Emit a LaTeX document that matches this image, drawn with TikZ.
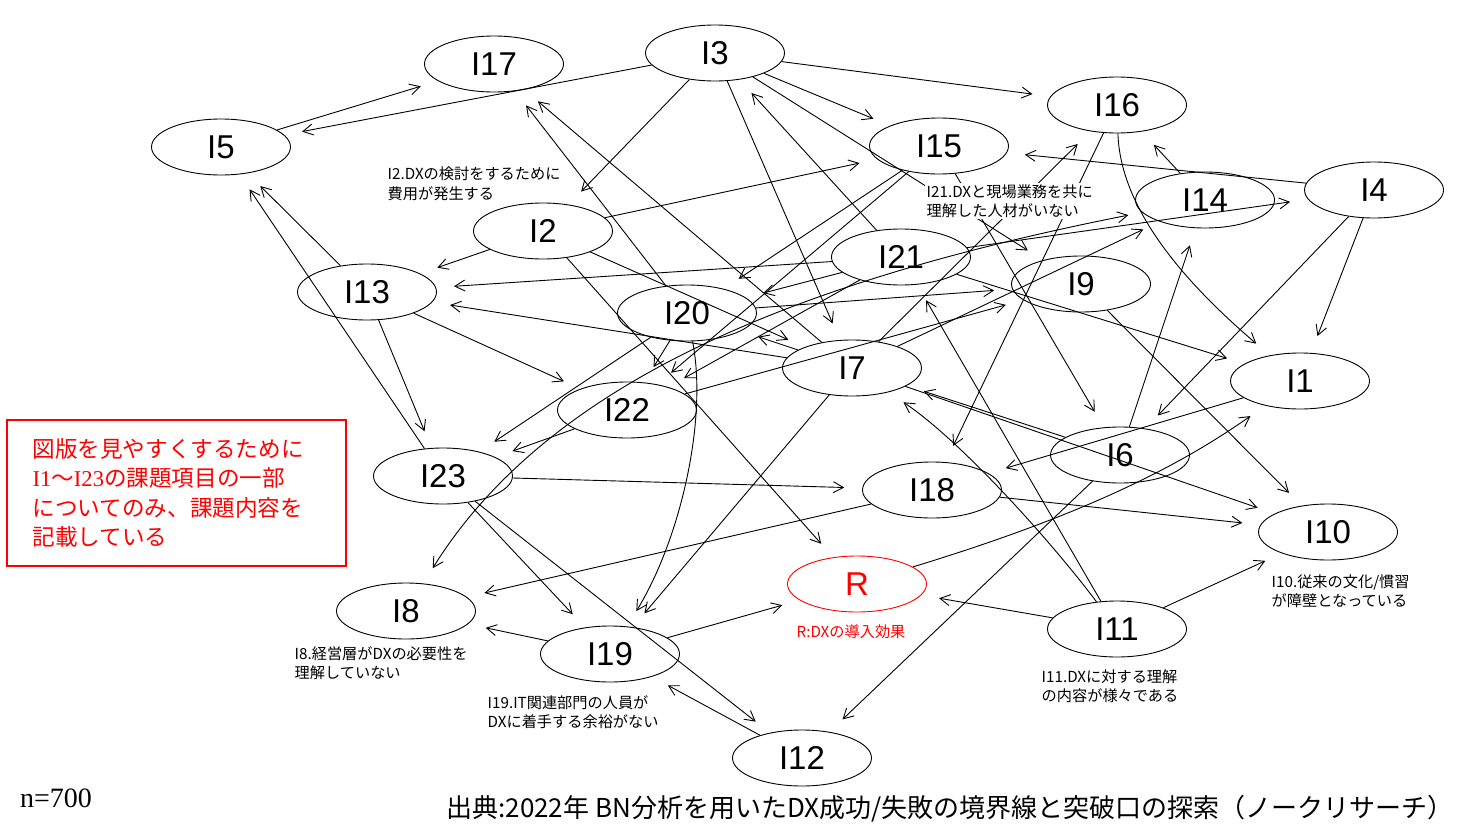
\documentclass[tikz,border=0pt]{standalone}
\usepackage{fontspec}
\setmainfont{Liberation Sans}
\newfontfamily\jpfont{Noto Sans CJK JP}
\newfontfamily\tmsfont{Liberation Serif}
\usetikzlibrary{shapes.geometric,arrows.meta}

\begin{document}
\begin{tikzpicture}[x=1pt, y=-1pt,
        var/.style={ellipse, draw, line width=0.9pt, minimum width=139pt, minimum height=56pt, inner sep=0pt, font=\fontsize{33}{33}\selectfont},
        arr/.style={-{Straight Barb[length=10pt,width=11pt]}, line width=0.9pt, shorten >=18pt},
        note/.style={anchor=west, align=left, inner sep=1.5pt, fill=white, font=\jpfont\fontsize{15.2}{19.5}\selectfont}]
        \useasboundingbox (0,0) rectangle (1466,838);
        % variables
        \node[var] (I17) at (494,64) {I17};
        \node[var] (I3) at (715,53) {I3};
        \node[var] (I5) at (221,147) {I5};
        \node[var] (I16) at (1117,105) {I16};
        \node[var] (I15) at (939,146) {I15};
        \node[var] (I14) at (1205,200) {I14};
        \node[var] (I4) at (1374,190) {I4};
        \node[var] (I2) at (543,231) {I2};
        \node[var] (I21) at (901,257) {I21};
        \node[var] (I9) at (1081,284) {I9};
        \node[var] (I13) at (367,292) {I13};
        \node[var] (I20) at (687,313) {I20};
        \node[var] (I7) at (852,368) {I7};
        \node[var] (I1) at (1300,381) {I1};
        \node[var] (I22) at (627,410) {I22};
        \node[var] (I6) at (1120,455) {I6};
        \node[var] (I23) at (443,476) {I23};
        \node[var] (I18) at (932,490) {I18};
        \node[var] (I10) at (1328,532) {I10};
        \node[var, draw=red, text=red] (R) at (857,584) {R};
        \node[var] (I8) at (406,611) {I8};
        \node[var] (I11) at (1117,629) {I11};
        \node[var] (I19) at (610,654) {I19};
        \node[var] (I12) at (802,758) {I12};
        % edges
        \draw[arr] (I5) -- (I17);
        \draw[arr] (I3) -- (I5);
        \draw[arr] (I13) -- (I5);
        \draw[arr] (I23) -- (I5);
        \draw[arr] (I3) -- (I2);
        \draw[arr] (I3) -- (I16);
        \draw[arr] (I3) -- (I15);
        \draw[arr] (I3) -- (I7);
        \draw[arr] (I3) -- (I9);
        \draw[arr] (I20) -- (I17);
        \draw[arr] (I7) -- (I17);
        \draw[arr] (I21) -- (I3);
        \draw[arr] (I2) -- (I15);
        \draw[arr] (I15) -- (I20);
        \draw[arr] (I15) -- (I22);
        \draw[arr] (I15) -- (I6);
        \draw[arr] (I16) -- (I18);
        \draw[arr] (I7) -- (I16);
        \draw[arr] (I21) -- (I4);
        \draw[arr] (I7) -- (I14);
        \draw[arr, {Straight Barb[length=10pt,width=11pt]}-{Straight Barb[length=10pt,width=11pt]}, shorten <=14pt] (I14) .. controls (800,280) and (550,380) .. (I8);
        \draw[arr] (I13) -- (I23);
        \draw[arr] (I13) -- (I22);
        \draw[arr] (I2) -- (I13);
        \draw[arr] (I21) -- (I13);
        \draw[arr] (I7) -- (I13);
        \draw[arr] (I2) -- (R);
        \draw[arr] (I2) -- (I7);
        \draw[arr] (I20) -- (I23);
        \draw[arr] (I20) -- (I22);
        \draw[arr] (I22) -- (I23);
        \draw[arr] (I20) .. controls (708,420) and (680,540) .. (I19);
        \draw[arr] (I7) -- (I19);
        \draw[arr] (I23) -- (I19);
        \draw[arr] (I23) -- (I12);
        \draw[arr] (I23) -- (I18);
        \draw[arr] (I18) -- (I8);
        \draw[arr] (I19) -- (I8);
        \draw[arr] (I19) -- (R);
        \draw[arr] (I12) -- (I19);
        \draw[arr] (I6) -- (I12);
        \draw[arr] (I11) -- (R);
        \draw[arr] (I11) -- (I10);
        \draw[arr] (R) .. controls (1050,525) and (1160,480) .. (I1);
        \draw[arr] (I11) .. controls (1050,540) and (960,440) .. (I7);
        \draw[arr] (I11) -- (I21);
        \draw[arr] (I4) -- (I1);
        \draw[arr] (I4) -- (I6);
        \draw[arr] (I4) -- (I15);
        \draw[arr] (I14) -- (I16);
        \draw[arr] (I16) .. controls (1120,200) and (1170,270) .. (I1);
        \draw[arr] (I6) -- (I14);
        \draw[arr] (I9) -- (I10);
        \draw[arr] (I1) -- (I18);
        \draw[arr] (I6) -- (I7);
        \draw[arr] (I7) -- (I10);
        \draw[arr] (I18) -- (I10);
        \draw[arr] (I21) -- (I1);
        \draw[arr] (I21) -- (I20);
        \draw[arr] (I21) -- (I22);
        \draw[arr] (I20) -- (I9);
        \draw[arr] (I22) -- (I9);
        \draw[arr] (I7) -- (I20);
        % short descriptions
        \node[note] (nI2) at (386,184) {I2.DXの検討をするために\\費用が発生する};
        \node[note] (nI21) at (925,201) {I21.DXと現場業務を共に\\理解した人材がいない};
        \node[note] (nI8) at (293,663) {I8.経営層がDXの必要性を\\理解していない};
        \node[note] (nI19) at (486,712) {I19.IT関連部門の人員が\\DXに着手する余裕がない};
        \node[note, anchor=center, text=red] (nR) at (851,632) {R:DXの導入効果};
        \node[note] (nI11) at (1040,686) {I11.DXに対する理解\\の内容が様々である};
        \node[note] (nI10) at (1270,591) {I10.従来の文化/慣習\\が障壁となっている};
        % remark box, sample size and source
        \node[draw=red, line width=2pt, text=red, minimum width=339pt, minimum height=146pt, text width=288pt, inner xsep=25.5pt, align=left,
              font=\jpfont\fontsize{22.6}{29.3}\selectfont] (remark) at (176.5,493)
              {図版を見やすくするために\\{\tmsfont I1}～{\tmsfont I23}の課題項目の一部\\についてのみ、課題内容を\\記載している};
        \node[anchor=west, inner sep=0pt, font=\tmsfont\fontsize{28}{28}\selectfont] (sample) at (20,798) {n=700};
        \node[inner sep=0pt, font=\jpfont\fontsize{26}{26}\selectfont] (source) at (950,809) {出典:2022年 BN分析を用いたDX成功/失敗の境界線と突破口の探索（ノークリサーチ）};
\end{tikzpicture}
\end{document}
